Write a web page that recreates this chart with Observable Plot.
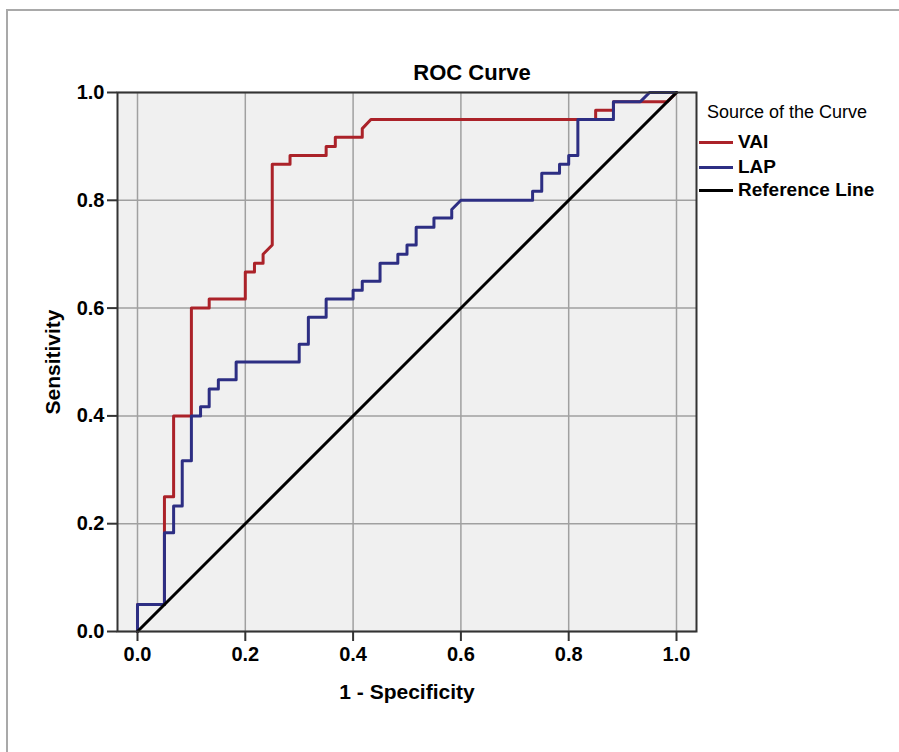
<!DOCTYPE html>
<html>
<head>
<meta charset="utf-8">
<script src="https://cdn.jsdelivr.net/npm/d3@7"></script>
<script src="https://cdn.jsdelivr.net/npm/@observablehq/plot@0.6"></script>
<style>
  body { margin: 0; background: #fff; overflow: hidden; font-family: "Liberation Sans", Arial, sans-serif; }
  #wrap { position: relative; width: 899px; height: 752px; overflow: hidden; }
  #border { position: absolute; left: 6px; top: 9px; width: 1000px; height: 1000px; border-left: 2px solid #a9a9a9; border-top: 2px solid #a9a9a9; }
  #chart { position: absolute; left: 0; top: 0; }
  #title { position: absolute; top: 62px; left: 362px; width: 220px; text-align: center; font-weight: bold; font-size: 22px; line-height: 1; color: #000; }
  #legendTitle { position: absolute; left: 707px; top: 103px; font-size: 18px; line-height: 1; color: #000; }
  .leg { position: absolute; left: 699px; height: 20px; }
  .leg .sw { position: absolute; left: 0; top: 8.5px; width: 34px; height: 3px; }
  .leg .lb { position: absolute; left: 39px; top: 0; font-weight: bold; font-size: 19px; line-height: 20px; white-space: nowrap; color: #000; }
</style>
</head>
<body>
<div id="wrap">
  <div id="border"></div>
  <div id="chart"></div>
  <div id="title">ROC Curve</div>
  <div id="legendTitle">Source of the Curve</div>
  <div id="legend"></div>
</div>
<script>
// ROC coordinates (1 - specificity, sensitivity)
const fprVAI = [0, 0, 0.05, 0.05, 0.067, 0.067, 0.1, 0.1, 0.133, 0.133, 0.2, 0.2, 0.217, 0.217, 0.233, 0.233, 0.25, 0.25, 0.283, 0.283, 0.35, 0.35, 0.367, 0.367, 0.417, 0.417, 0.433, 0.85, 0.85, 0.883, 0.883, 0.983, 1];
const tprVAI = [0, 0.05, 0.05, 0.25, 0.25, 0.4, 0.4, 0.6, 0.6, 0.617, 0.617, 0.667, 0.667, 0.683, 0.683, 0.7, 0.717, 0.867, 0.867, 0.883, 0.883, 0.9, 0.9, 0.917, 0.917, 0.933, 0.95, 0.95, 0.967, 0.967, 0.983, 0.983, 1];

const fprLAP = [0, 0, 0.05, 0.05, 0.067, 0.067, 0.083, 0.083, 0.1, 0.1, 0.117, 0.117, 0.133, 0.133, 0.15, 0.15, 0.183, 0.183, 0.3, 0.3, 0.317, 0.317, 0.35, 0.35, 0.4, 0.4, 0.417, 0.417, 0.45, 0.45, 0.483, 0.483, 0.5, 0.5, 0.517, 0.517, 0.55, 0.55, 0.583, 0.583, 0.6, 0.733, 0.733, 0.75, 0.75, 0.783, 0.783, 0.8, 0.8, 0.817, 0.817, 0.883, 0.883, 0.933, 0.95, 1];
const tprLAP = [0, 0.05, 0.05, 0.183, 0.183, 0.233, 0.233, 0.317, 0.317, 0.4, 0.4, 0.417, 0.417, 0.45, 0.45, 0.467, 0.467, 0.5, 0.5, 0.533, 0.533, 0.583, 0.583, 0.617, 0.617, 0.633, 0.633, 0.65, 0.65, 0.683, 0.683, 0.7, 0.7, 0.717, 0.717, 0.75, 0.75, 0.767, 0.767, 0.783, 0.8, 0.8, 0.817, 0.817, 0.85, 0.85, 0.867, 0.867, 0.883, 0.883, 0.95, 0.95, 0.983, 0.983, 1, 1];

const fprRef = [0, 1];
const tprRef = [0, 1];

const tickValues = [0, 0.2, 0.4, 0.6, 0.8, 1.0];
const seriesNames = ["VAI", "LAP", "Reference Line"];
const seriesColors = ["#ab2229", "#2d2e83", "#000000"];

const toPts = (xs, ys) => xs.map((x, i) => ({x, y: ys[i]}));
const vai = toPts(fprVAI, tprVAI);
const lap = toPts(fprLAP, tprLAP);
const ref = toPts(fprRef, tprRef);

const chart = Plot.plot({
  width: 899,
  height: 752,
  marginLeft: 117,
  marginRight: 203,
  marginTop: 92,
  marginBottom: 121,
  x: {domain: [-0.0371, 1.0371]},
  y: {domain: [0, 1]},
  style: {fontFamily: "'Liberation Sans', Arial, sans-serif", fontSize: "20px", fontWeight: "bold", color: "#000", background: "transparent"},
  marks: [
    Plot.frame({fill: "#f0f0f0"}),
    Plot.gridX(tickValues, {stroke: "#a0a0a0", strokeOpacity: 1, strokeWidth: 1.5}),
    Plot.gridY(tickValues, {stroke: "#a0a0a0", strokeOpacity: 1, strokeWidth: 1.5}),
    Plot.line(vai, {x: "x", y: "y", stroke: seriesColors[0], strokeWidth: 3}),
    Plot.line(lap, {x: "x", y: "y", stroke: seriesColors[1], strokeWidth: 3}),
    Plot.line(ref, {x: "x", y: "y", stroke: seriesColors[2], strokeWidth: 3}),
    Plot.frame({stroke: "#333", strokeWidth: 2}),
    Plot.axisX(tickValues, {label: null, tickFormat: d => d.toFixed(1), tickSize: 10, tickPadding: 5, stroke: "#333", strokeWidth: 2, fontSize: 20, fontWeight: "bold"}),
    Plot.axisY(tickValues, {label: null, tickFormat: d => d.toFixed(1), tickSize: 10, tickPadding: 3, stroke: "#333", strokeWidth: 2, fontSize: 20, fontWeight: "bold"}),
    Plot.axisX({label: "1 - Specificity", labelAnchor: "center", labelOffset: 67, labelArrow: "none", ticks: [], tickSize: 0, fontSize: 21, fontWeight: "bold"}),
    Plot.axisY({label: "Sensitivity", labelAnchor: "center", labelOffset: 72, labelArrow: "none", ticks: [], tickSize: 0, fontSize: 21, fontWeight: "bold"})
  ]
});
document.getElementById("chart").appendChild(chart);

const legend = document.getElementById("legend");
const rowTops = [132, 157, 180];
seriesNames.forEach((name, i) => {
  const row = document.createElement("div");
  row.className = "leg";
  row.style.top = rowTops[i] + "px";
  const sw = document.createElement("div");
  sw.className = "sw";
  sw.style.background = seriesColors[i];
  const lb = document.createElement("div");
  lb.className = "lb";
  lb.textContent = name;
  row.appendChild(sw);
  row.appendChild(lb);
  legend.appendChild(row);
});
</script>
</body>
</html>
